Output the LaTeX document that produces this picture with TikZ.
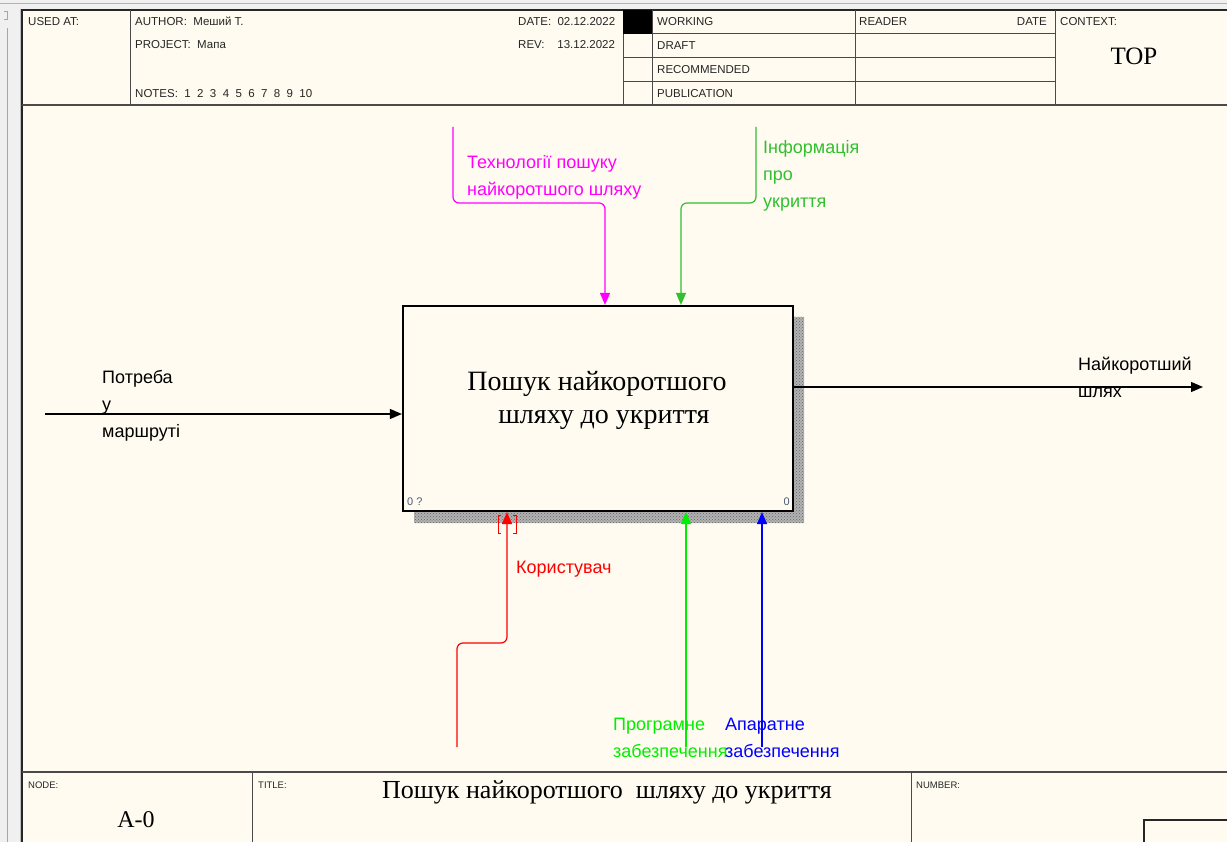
\documentclass[tikz,border=0pt]{standalone}
\usepackage{fontspec}
\setmainfont{Liberation Serif}
\setsansfont{Liberation Sans}
\usetikzlibrary{arrows.meta,patterns,positioning,calc}
\definecolor{paper}{HTML}{FFFBF0}
\definecolor{winGray}{HTML}{F0F0F0}
\definecolor{frameLine}{HTML}{4A4A4A}
\definecolor{ctlMagenta}{HTML}{FF00FF}
\definecolor{infoGreen}{HTML}{30C030}
\definecolor{swGreen}{HTML}{00EE00}
\definecolor{cornerNum}{HTML}{4A5A78}

\begin{document}
\begin{tikzpicture}[x=1pt,y=-1pt,
    flow/.style={-{Triangle[length=12pt,width=10pt]},line width=1.2pt,rounded corners=6pt},
    lbl/.style={anchor=north west,inner sep=0pt,align=left,
      font=\sffamily\fontsize{18}{27}\selectfont},
    hdr/.style={anchor=base west,inner sep=0pt,text=black!85,
      font=\sffamily\fontsize{11.5}{12}\selectfont},
    tiny/.style={anchor=base west,inner sep=0pt,text=black!85,
      font=\sffamily\fontsize{9.5}{10}\selectfont},
    func/.style={draw,line width=2.2pt,fill=paper,minimum width=390pt,
      minimum height=205pt}]
  \useasboundingbox (0,0) rectangle (1227,842);
  \fill[paper] (0,0) rectangle (1227,842);
  % window edge
  \fill[winGray] (0,0) rectangle (21,842);
  \fill[winGray] (0,0) rectangle (1227,9);
  \draw[gray!60] (0,3) -- (1227,3);
  \draw[gray!70] (7,28) -- (7,842);
  \draw[gray!70] (4,11) -- (7,11) -- (7,19) -- (4,19);
  \draw[gray!50] (20,9) -- (20,842);
  % frame
  \draw[black!85,line width=2pt] (1227,10) -- (22,10) -- (22,842);
  \draw[frameLine,line width=1.5pt] (22,105) -- (1227,105);
  \draw[frameLine,line width=1.5pt] (22,772) -- (1227,772);
  \draw[frameLine,line width=1pt]
    (130,10) -- (130,105)
    (623,10) -- (623,105)
    (652,10) -- (652,105)
    (855,10) -- (855,105)
    (1055,10) -- (1055,105)
    (623,34) -- (1055,34)
    (623,58) -- (1055,58)
    (623,82) -- (1055,82)
    (252,772) -- (252,842)
    (911,772) -- (911,842);
  \fill[black] (623,10) rectangle (652,34);
  \draw[black!85,line width=1.5pt] (1227,820) -- (1144,820) -- (1144,842);

  % header
  \node[hdr] (usedAt) at (28,26) {USED AT:};
  \node[hdr] (author) at (135,26) {AUTHOR:\ \ Меший Т.};
  \node[hdr] (project) at (135,49) {PROJECT:\ \ Мапа};
  \node[hdr] (notes) at (135,98) {NOTES:\ \ 1\ \ 2\ \ 3\ \ 4\ \ 5\ \ 6\ \ 7\ \ 8\ \ 9\ \ 10};
  \node[hdr] (date) at (518,26) {DATE:\ \ 02.12.2022};
  \node[hdr] (rev) at (518,49) {REV:\ \ \ \ 13.12.2022};
  \node[hdr] (working) at (657,26) {WORKING};
  \node[hdr] (draft) at (657,50) {DRAFT};
  \node[hdr] (recomm) at (657,74) {RECOMMENDED};
  \node[hdr] (public) at (657,98) {PUBLICATION};
  \node[hdr] (reader) at (859,26) {READER};
  \node[hdr,anchor=base east] (rdate) at (1047,26) {DATE};
  \node[hdr] (context) at (1060,26) {CONTEXT:};
  \node[anchor=base,inner sep=0pt,font=\rmfamily\fontsize{25}{25}\selectfont]
    (ctxTop) at (1134,65) {TOP};

  % footer
  \node[tiny] (nodeLbl) at (28,788) {NODE:};
  \node[tiny] (titleLbl) at (258,788) {TITLE:};
  \node[tiny] (numLbl) at (916,788) {NUMBER:};
  \node[anchor=base,inner sep=0pt,font=\rmfamily\fontsize{24}{24}\selectfont]
    (nodeNum) at (136,827) {А-0};
  \node[anchor=base,inner sep=0pt,font=\rmfamily\fontsize{26}{26}\selectfont]
    (titleTxt) at (607,798) {Пошук найкоротшого\ \ шляху до укриття};

  % activity box
  \fill[black!30] (414,511) rectangle (804,523) (793,317) rectangle (804,523);
  \fill[pattern=crosshatch dots,pattern color=black!60]
    (414,511) rectangle (804,523) (793,317) rectangle (804,523);
  \node[func] (func) at (598,408.5) {};
  \node[align=center,inner sep=0pt,font=\rmfamily\fontsize{28}{33}\selectfont]
    (funcTxt) at (597,400) {Пошук найкоротшого\\\hspace*{14pt}шляху до укриття};
  \node[anchor=base west,inner sep=0pt,text=cornerNum,font=\sffamily\fontsize{11}{11}\selectfont]
    (numL) at (407,505) {0 ?};
  \node[anchor=base east,inner sep=0pt,text=cornerNum,font=\sffamily\fontsize{11}{11}\selectfont]
    (numR) at (790,505) {0};

  % input and output
  \coordinate (needS) at (45,414);
  \draw[flow] (needS) -- (needS -| func.west);
  \node[lbl] (need) at (102,370) {Потреба\\у\\маршруті};
  \coordinate (pathE) at (1203,387);
  \draw[flow] (func.east |- pathE) -- (pathE);
  \node[lbl] (path) at (1078,357) {Найкоротший\\шлях};

  % controls
  \coordinate (techS) at (453,127);
  \coordinate (techK) at (605,203);
  \draw[flow,ctlMagenta] (techS) |- (techK) -- (techK |- func.north);
  \node[lbl,text=ctlMagenta] (tech) at (467,155) {Технології пошуку\\найкоротшого шляху};
  \coordinate (infoS) at (756,127);
  \coordinate (infoK) at (681,203);
  \draw[flow,infoGreen] (infoS) |- (infoK) -- (infoK |- func.north);
  \node[lbl,text=infoGreen] (info) at (763,140) {Інформація\\про\\укриття};

  % mechanisms
  \coordinate (userS) at (457,747);
  \coordinate (userK) at (507,643);
  \draw[flow,red] (userS) |- (userK) -- (userK |- func.south);
  \draw[red,line width=1pt] (501,515) -- (498,515) -- (498,533) -- (501,533)
    (513,515) -- (516,515) -- (516,533) -- (513,533);
  \node[lbl,text=red] (user) at (516,561) {Користувач};
  \coordinate (softS) at (686,747);
  \draw[flow,swGreen] (softS) -- (softS |- func.south);
  \node[lbl,text=swGreen] (soft) at (613,718) {Програмне\\забезпечення};
  \coordinate (hardS) at (762,747);
  \draw[flow,blue] (hardS) -- (hardS |- func.south);
  \node[lbl,text=blue] (hard) at (725,718) {Апаратне\\забезпечення};
\end{tikzpicture}
\end{document}
